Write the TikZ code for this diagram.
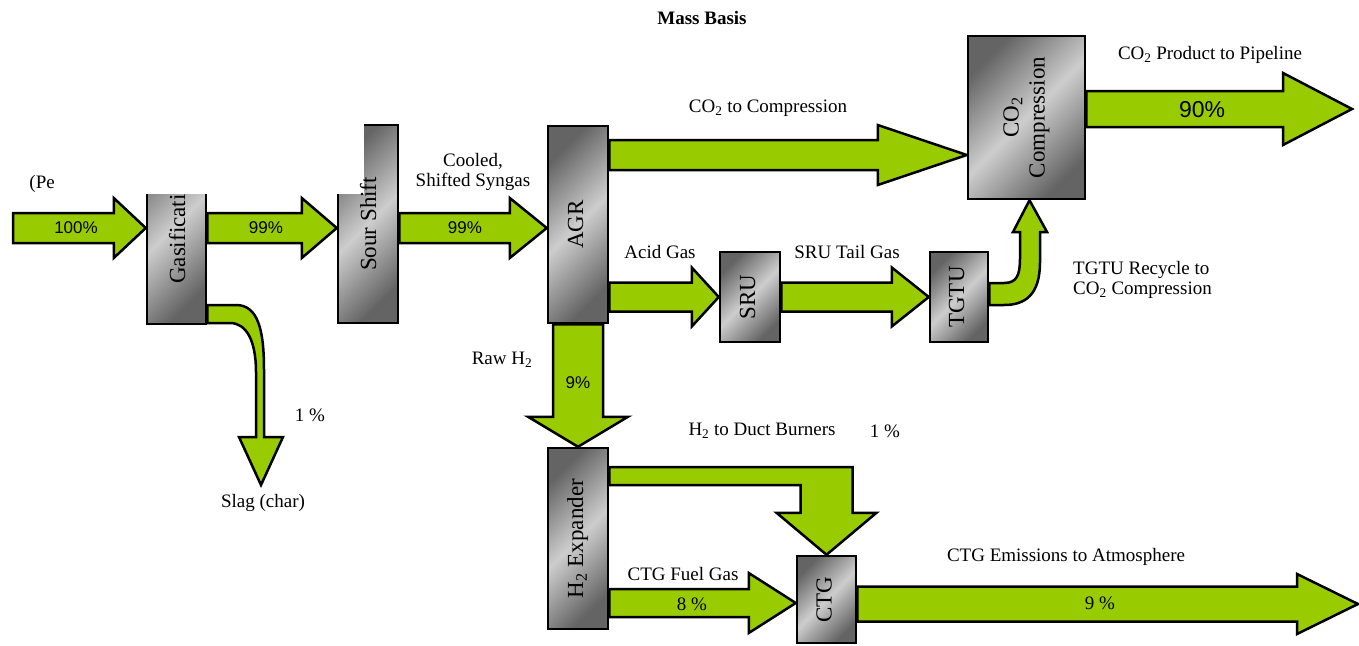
\documentclass[tikz,border=0pt]{standalone}
\usepackage{fontspec}
\setmainfont{Liberation Serif}
\newfontfamily\pctfont{Liberation Sans}
\usepackage{graphicx}
\usetikzlibrary{calc,backgrounds}
\definecolor{flowgreen}{HTML}{99CC00}
\definecolor{unitdark}{HTML}{646464}
\definecolor{unitlight}{HTML}{CDCDCD}
\newcommand{\unitlabel}[1]{\rotatebox{90}{\begin{tabular}{@{}c@{}}#1\end{tabular}}}
% horizontal block arrow: tail, tip, axis y, half shaft, head length, half head
\newcommand{\hflow}[6]{%
  \coordinate (fa) at (#1 |- 0,#3);
  \coordinate (fb) at (#2 |- 0,#3);
  \draw[flow] ($(fa)+(0,-#4)$) -- ($(fb)+(-#5,-#4)$) -- ($(fb)+(-#5,-#6)$) -- (fb)
    -- ($(fb)+(-#5,#6)$) -- ($(fb)+(-#5,#4)$) -- ($(fa)+(0,#4)$) -- cycle;}
\tikzset{
  unittext/.style={inner sep=0pt,font=\fontsize{23}{26}\selectfont},
  box/.style={unittext,draw=black,line width=2.5pt,top color=unitdark,bottom color=unitdark,middle color=unitlight,shading angle=45},
  flow/.style={draw=black,line width=2.5pt,fill=flowgreen,line join=miter},
  lbl/.style={font=\fontsize{19}{20}\selectfont,inner sep=0pt,align=center},
  pct/.style={font=\pctfont\fontsize{17}{18}\selectfont,inner sep=0pt},
}

\begin{document}
\begin{tikzpicture}[x=1pt,y=-1pt]
\useasboundingbox (0,0) rectangle (1359,645);

% process units
\node[box,minimum width=59pt,minimum height=199pt] (gasif) at (176.5,224.5) {};
\node[box,minimum width=60pt,minimum height=198pt] (sour) at (368,224) {};
\node[box,minimum width=60pt,minimum height=197pt] (agr) at (578,224.5) {\unitlabel{AGR}};
\node[box,minimum width=117pt,minimum height=163pt] (co2) at (1026.5,117.5) {\unitlabel{CO\textsubscript{2}\\Compression}};
\node[box,minimum width=60pt,minimum height=90pt] (sru) at (750,297) {\unitlabel{SRU}};
\node[box,minimum width=58pt,minimum height=90pt] (tgtu) at (959,297) {\unitlabel{TGTU}};
\node[box,minimum width=60pt,minimum height=181pt] (exp) at (578,538.5) {\unitlabel{H\textsubscript{2} Expander}};
\node[box,minimum width=59pt,minimum height=87pt] (ctg) at (826.5,599.5) {\unitlabel{CTG}};

\coordinate (feedin) at (13,228);
\coordinate (pipe) at (1352,109);
\coordinate (atmos) at (1358,604);
\coordinate (slag) at (261,485);
\coordinate (rtip) at ($(co2.south)+(3,0)$);

% flows
\begin{scope}[on background layer]
\hflow{feedin}{gasif.west}{228}{15}{32}{30}
\hflow{gasif.east}{sour.west}{228}{15}{35}{30}
\hflow{sour.east}{agr.west}{228}{15}{37}{30}
\hflow{agr.east}{co2.west}{155}{15}{89}{30}
\hflow{agr.east}{sru.west}{297}{14.5}{27}{29.5}
\hflow{sru.east}{tgtu.west}{297}{14.5}{37}{29.5}
\hflow{co2.east}{pipe}{109}{18}{69}{36}
\hflow{exp.east}{ctg.west}{603}{14}{47}{30}
\hflow{ctg.east}{atmos}{604}{17.5}{61}{30}
\draw[flow] ($(agr.south)+(-25,0)$) -- ($(exp.north)+(-25,-30)$) -- ($(exp.north)+(-50,-30)$) -- (exp.north)
  -- ($(exp.north)+(50,-30)$) -- ($(exp.north)+(25,-30)$) -- ($(agr.south)+(25,0)$) -- cycle;
\draw[flow] (exp.east |- 0,467) -| ($(ctg.north)+(26,-42)$) -- ($(ctg.north)+(50,-42)$) -- (ctg.north)
  -- ($(ctg.north)+(-50,-42)$) -- ($(ctg.north)+(-26,-42)$) |- (exp.east |- 0,485) -- cycle;
\draw[flow] (gasif.east |- 0,305) -- (236,305) .. controls (258,305) and (264,330) .. (264,370) -- (264,437)
  -- (283,437) -- (slag) -- (239,437) -- (256,437) -- (256,372) .. controls (256,340) and (246,323) .. (230,323)
  -- (gasif.east |- 0,323) -- cycle;
\draw[flow] (tgtu.east |- 0,283) -- (1004,283) .. controls (1017,283) and (1020,275) .. (1020,258) -- (1020,232)
  -- (1013,232) -- (rtip) -- (1047,232) -- (1040,232) -- (1040,262) .. controls (1040,295) and (1025,305) .. (1004,305)
  -- (tgtu.east |- 0,305) -- cycle;
\end{scope}

% cut-off corner
\fill[white] (55,0) rectangle (364,194);
\node[unittext,anchor=south] (gaslbl) at (180,284) {\unitlabel{Gasificati}};
\node[unittext] (sourlbl) at (371,224) {\unitlabel{Sour Shift}};

% labels
\node[lbl,anchor=east] (feedlbl) at (55,184) {(Pe};
\node[lbl,font=\bfseries\fontsize{19}{20}\selectfont] (basis) at (702,18) {Mass Basis};
\node[lbl] (pipelbl) at (1210,55) {CO\textsubscript{2} Product to Pipeline};
\node[lbl] (co2lbl) at (768,108) {CO\textsubscript{2} to Compression};
\node[lbl] (synlbl) at (473,172) {Cooled,\\Shifted Syngas};
\node[lbl] (acidlbl) at (660,252) {Acid Gas};
\node[lbl] (taillbl) at (847,252) {SRU Tail Gas};
\node[lbl,align=left,anchor=west] (recyclbl) at (1073,280) {TGTU Recycle to\\CO\textsubscript{2} Compression};
\node[lbl] (rawlbl) at (502,360) {Raw H\textsubscript{2}};
\node[lbl] (slagpct) at (310,415) {1 \%};
\node[lbl] (slaglbl) at (263,503) {Slag (char)};
\node[lbl] (ductlbl) at (762,431) {H\textsubscript{2} to Duct Burners};
\node[lbl] (ductpct) at (885,431) {1 \%};
\node[lbl] (fuellbl) at (683,574) {CTG Fuel Gas};
\node[lbl] (fuelpct) at (692,604) {8 \%};
\node[lbl] (atmlbl) at (1066,557) {CTG Emissions to Atmosphere};
\node[lbl] (atmpct) at (1100,603) {9 \%};
\node[pct] (feedpct) at (76,228) {100\%};
\node[pct] (gaspct) at (266,228) {99\%};
\node[pct] (sourpct) at (465,228) {99\%};
\node[pct] (rawpct) at (578,383) {9\%};
\node[pct,font=\pctfont\fontsize{23}{24}\selectfont] (pipepct) at (1202,110) {90\%};
\end{tikzpicture}
\end{document}
